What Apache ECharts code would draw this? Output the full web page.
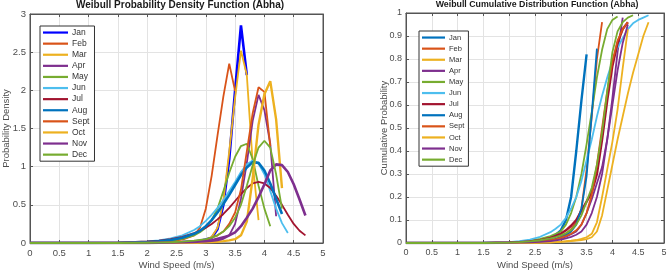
<!DOCTYPE html>
<html>
<head>
<meta charset="utf-8">
<script src="https://cdn.jsdelivr.net/npm/echarts@6/dist/echarts.min.js"></script>
<style>
html,body{margin:0;padding:0;background:#fff;}
#left{position:absolute;left:0;top:0;width:335px;height:271px;}
#right{position:absolute;left:335px;top:0;width:334px;height:271px;}
</style>
</head>
<body>
<div id="left"></div>
<div id="right"></div>
<script>
// Shared wind-speed sample points (m/s)
const xs = [0,0.5,1,1.5,2,2.2,2.4,2.6,2.8,2.9,3.0,3.1,3.2,3.3,3.4,3.5,3.6,3.7,3.8,3.9,4.0,4.1,4.2,4.3,4.4,4.5,4.6,4.7];
const months = ['Jan','Feb','Mar','Apr','May','Jun','Jul','Aug','Sept','Oct','Nov','Dec'];

// PDF values (left chart)
const pdfJan  = [0,0,0,0,0.002,0.004,0.007,0.012,0.02, 0.03,0.045,0.07,0.18,0.5,1.1,2.0,2.85,2.2];
const pdfFeb  = [0,0,0,0,0.01,0.015,0.025,0.045,0.1, 0.2,0.45,0.88,1.41,1.92,2.35,1.99];
const pdfMar  = [0,0,0,0,0.001,0.002,0.004,0.008,0.015, 0.02,0.04,0.08,0.2,0.55,1.2,1.9,2.52,2.2,1.05,0.3];
const pdfApr  = [0,0,0,0,0.001,0.002,0.004,0.007,0.012, 0.018,0.027,0.04,0.06,0.08,0.1,0.25,0.58,1.05,1.6,1.94,1.74,1.3,0.35];
const pdfMay  = [0,0,0,0,0.01,0.02,0.03,0.055,0.1, 0.14,0.2,0.3,0.45,0.68,0.92,1.13,1.27,1.3,1.1,0.75,0.45,0.22];
const pdfJun  = [0,0,0,0.005,0.02,0.035,0.06,0.1,0.17, 0.22,0.29,0.37,0.46,0.56,0.68,0.8,0.93,1.03,1.08,1.04,0.9,0.68,0.45,0.26,0.13];
const pdfJul  = [0,0,0,0.006,0.02,0.03,0.05,0.08,0.13, 0.16,0.2,0.25,0.31,0.38,0.46,0.55,0.64,0.72,0.78,0.8,0.78,0.72,0.62,0.5,0.37,0.25,0.16,0.1];
const pdfAug  = [0,0,0,0.003,0.012,0.022,0.04,0.07,0.12, 0.16,0.22,0.3,0.4,0.51,0.63,0.76,0.89,0.99,1.06,1.05,0.95,0.78,0.58,0.38];
const pdfSept = [0,0,0,0,0.002,0.004,0.007,0.012,0.02, 0.03,0.045,0.07,0.1,0.15,0.25,0.4,0.7,1.2,1.7,2.04,1.98,1.27];
const pdfOct  = [0,0,0,0,0,0.001,0.002,0.003,0.004, 0.006,0.009,0.012,0.017,0.024,0.034,0.05,0.1,0.28,0.85,1.55,1.95,2.12,1.62,0.72];
const pdfNov  = [0,0,0,0,0.002,0.004,0.006,0.01,0.015, 0.02,0.025,0.03,0.04,0.06,0.1,0.14,0.22,0.33,0.45,0.6,0.77,0.95,1.03,1.02,0.93,0.77,0.57,0.36];
const pdfDec  = [0,0,0,0,0.003,0.006,0.01,0.017,0.03, 0.04,0.05,0.07,0.1,0.15,0.22,0.33,0.5,0.75,1.02,1.25,1.34,1.25,0.9,0.45];

// CDF values (right chart)
const cdfJan  = [0,0,0,0,0.001,0.002,0.004,0.008,0.02, 0.035,0.055,0.1,0.2,0.4,0.62,0.82];
const cdfFeb  = [0,0,0,0,0.001,0.002,0.003,0.006,0.012, 0.018,0.027,0.04,0.06,0.09,0.15,0.32,0.55,0.8,0.96];
const cdfMar  = [0,0,0,0,0,0,0.001,0.002,0.003, 0.004,0.005,0.006,0.008,0.01,0.013,0.017,0.025,0.05,0.12,0.23,0.34,0.45,0.55,0.65,0.74,0.82,0.9,0.96];
const cdfApr  = [0,0,0,0,0.001,0.002,0.003,0.005,0.01, 0.014,0.02,0.028,0.038,0.05,0.08,0.13,0.19,0.26,0.33,0.45,0.63,0.83,0.98];
const cdfMay  = [0,0,0,0,0.003,0.006,0.01,0.018,0.03, 0.04,0.05,0.08,0.13,0.2,0.3,0.43,0.57,0.72,0.84,0.93,0.97,0.985];
const cdfJun  = [0,0,0,0.001,0.004,0.008,0.015,0.027,0.047, 0.062,0.08,0.11,0.15,0.2,0.27,0.36,0.45,0.55,0.64,0.72,0.79,0.85,0.89,0.93,0.955,0.97,0.98,0.99];
const cdfJul  = [0,0,0,0,0.002,0.004,0.007,0.012,0.022, 0.03,0.04,0.055,0.075,0.1,0.14,0.18,0.22,0.3,0.45,0.62,0.77,0.87,0.93,0.96];
const cdfAug  = [0,0,0,0,0.001,0.002,0.004,0.007,0.012, 0.017,0.024,0.034,0.05,0.08,0.15,0.29,0.56,0.845];
const cdfSept = [0,0,0,0,0.001,0.002,0.004,0.007,0.012, 0.016,0.022,0.03,0.04,0.055,0.08,0.13,0.21,0.34,0.5,0.66,0.79,0.88,0.93,0.96];
const cdfOct  = [0,0,0,0,0,0,0.001,0.002,0.003, 0.004,0.006,0.008,0.01,0.013,0.018,0.025,0.04,0.09,0.2,0.32,0.44,0.58,0.76,0.93];
const cdfNov  = [0,0,0,0,0.001,0.002,0.003,0.005,0.008, 0.011,0.015,0.02,0.027,0.036,0.05,0.08,0.13,0.2,0.3,0.45,0.6,0.75,0.87,0.95];
const cdfDec  = [0,0,0,0,0.002,0.004,0.007,0.012,0.02, 0.026,0.033,0.043,0.056,0.08,0.12,0.18,0.24,0.34,0.48,0.66,0.83,0.92,0.96,0.98,0.99];

const pdfAll = [pdfJan,pdfFeb,pdfMar,pdfApr,pdfMay,pdfJun,pdfJul,pdfAug,pdfSept,pdfOct,pdfNov,pdfDec];
const cdfAll = [cdfJan,cdfFeb,cdfMar,cdfApr,cdfMay,cdfJun,cdfJul,cdfAug,cdfSept,cdfOct,cdfNov,cdfDec];

const colorsLeft  = ['#0000FF','#D95319','#EDB120','#7E2F8E','#77AC30','#4DBEEE','#A2142F','#0072BD','#D95319','#EDB120','#7E2F8E','#77AC30'];
const colorsRight = ['#0072BD','#D95319','#EDB120','#7E2F8E','#77AC30','#4DBEEE','#A2142F','#0072BD','#D95319','#EDB120','#7E2F8E','#77AC30'];
const widthsLeft  = [2.6,1.8,1.8,1.8,1.8,1.8,1.8,2.6,1.8,2.4,2.6,1.8];
const widthsRight = [2.4,1.8,1.8,1.8,1.8,1.8,2.4,1.8,1.8,1.8,1.8,1.8];

const FONT = '"Liberation Sans", Arial, sans-serif';
const AXC = '#4d4d4d';

function buildSeries(all, colors, widths) {
  return all.map((arr, i) => ({
    name: months[i],
    type: 'line',
    symbol: 'none',
    smooth: false,
    color: colors[i],
    lineStyle: { width: widths[i], color: colors[i] },
    data: arr.map((y, j) => [xs[j], y]),
    animation: false
  }));
}

function makeOption(cfg) {
  const xBase = {
    type: 'value', min: 0, max: 5, interval: 0.5,
    axisLine: { show: true, onZero: false, lineStyle: { color: '#555', width: 1 } },
    axisTick: { show: true, inside: true, length: 3, lineStyle: { color: '#555' } },
    splitLine: { show: true, lineStyle: { color: '#e3e3e3', width: 1 } },
    axisLabel: { color: AXC, fontSize: cfg.tickFont, fontFamily: FONT, margin: 5,
      formatter: v => String(v) }
  };
  const yBase = {
    type: 'value', min: 0, max: cfg.yMax, interval: cfg.yInt,
    axisLine: { show: true, onZero: false, lineStyle: { color: '#555', width: 1 } },
    axisTick: { show: true, inside: true, length: 3, lineStyle: { color: '#555' } },
    splitLine: { show: true, lineStyle: { color: '#e3e3e3', width: 1 } },
    axisLabel: { color: AXC, fontSize: cfg.tickFont, fontFamily: FONT, margin: 4,
      formatter: v => String(+v.toFixed(2)) }
  };
  return {
    animation: false,
    backgroundColor: '#fff',
    title: {
      text: cfg.title, left: cfg.titleX, top: 0, textAlign: 'center', padding: 0,
      textStyle: { fontSize: cfg.titleFont, fontWeight: 'bold', color: '#1a1a1a', fontFamily: FONT }
    },
    grid: { left: cfg.gl, top: cfg.gt, width: cfg.gw, height: cfg.gh, containLabel: false,
      outerBoundsMode: 'none',
      show: true, borderColor: '#555', borderWidth: 1 },
    legend: {
      orient: 'vertical', left: cfg.lgLeft, top: cfg.lgTop,
      icon: 'rect', itemWidth: cfg.lgItemW, itemHeight: 2.2, itemGap: 0,
      padding: cfg.lgPad, borderColor: '#333', borderWidth: 1, backgroundColor: '#fff',
      textStyle: { fontSize: cfg.lgFont, color: '#333', fontFamily: FONT, lineHeight: cfg.lgRow, padding: [0, 0, 0, -1] },
      data: months, selectedMode: false
    },
    xAxis: [
      Object.assign({}, xBase, { position: 'bottom', name: 'Wind Speed (m/s)', nameLocation: 'middle', nameGap: 17,
        nameMoveOverlap: false,
        nameTextStyle: { color: AXC, fontSize: cfg.nameFont, fontFamily: FONT } }),
      Object.assign({}, xBase, { position: 'top', axisLabel: { show: false }, splitLine: { show: false } })
    ],
    yAxis: [
      Object.assign({}, yBase, { position: 'left', name: cfg.yName, nameLocation: 'middle', nameGap: cfg.yNameGap,
        nameMoveOverlap: false,
        nameTextStyle: { color: AXC, fontSize: cfg.nameFont, fontFamily: FONT } }),
      Object.assign({}, yBase, { position: 'right', axisLabel: { show: false }, splitLine: { show: false } })
    ],
    series: buildSeries(cfg.data, cfg.colors, cfg.widths)
  };
}

const left = echarts.init(document.getElementById('left'), null, { renderer: 'canvas' });
left.setOption(makeOption({
  title: 'Weibull Probability Density Function (Abha)', titleX: 180, titleFont: 10,
  gl: 30, gt: 14, gw: 293, gh: 229, yMax: 3, yInt: 0.5, tickFont: 9.5, nameFont: 9.5,
  yName: 'Probability Density', yNameGap: 19,
  lgLeft: 40, lgTop: 26, lgItemW: 25, lgPad: [1, 5, 1, 3], lgFont: 8.5, lgRow: 11.1,
  data: pdfAll, colors: colorsLeft, widths: widthsLeft
}));

const right = echarts.init(document.getElementById('right'), null, { renderer: 'canvas' });
right.setOption(makeOption({
  title: 'Weibull Cumulative Distribution Function (Abha)', titleX: 202, titleFont: 8.8,
  gl: 71, gt: 13, gw: 258, gh: 230, yMax: 1, yInt: 0.1, tickFont: 9, nameFont: 9.5,
  yName: 'Cumulative Probability', yNameGap: 16.5,
  lgLeft: 84, lgTop: 31, lgItemW: 23, lgPad: [1, 4, 1, 3], lgFont: 7.5, lgRow: 11.1,
  data: cdfAll, colors: colorsRight, widths: widthsRight
}));
</script>
</body>
</html>
